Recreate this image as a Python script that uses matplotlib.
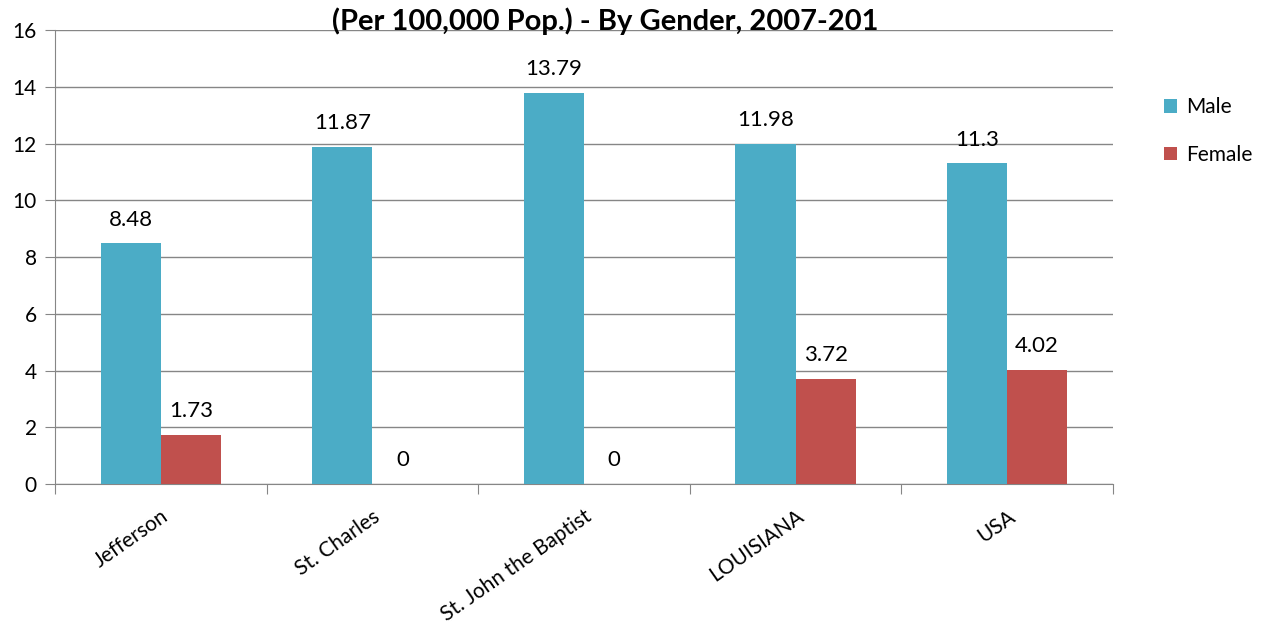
import numpy as np
import matplotlib.pyplot as plt

# data
places = ["Jefferson", "St. Charles", "St. John the Baptist", "LOUISIANA", "USA"]
male = [8.48, 11.87, 13.79, 11.98, 11.3]
female = [1.73, 0, 0, 3.72, 4.02]
male_lbl = ["8.48", "11.87", "13.79", "11.98", "11.3"]
female_lbl = ["1.73", "0", "0", "3.72", "4.02"]

plt.rcParams['font.family'] = ['Lato', 'DejaVu Sans']

fig = plt.figure(figsize=(12.66, 6.27), dpi=100)
ax = fig.add_axes([0.0434, 0.228, 0.8357, 0.724])

x = np.arange(len(places))
w = 0.284
b1 = ax.bar(x - w/2, male, w, color='#4BACC6', label='Male', zorder=3)
b2 = ax.bar(x + w/2, female, w, color='#C0504D', label='Female', zorder=3)

for rect, t in zip(b1, male_lbl):
    ax.annotate(t, (rect.get_x() + rect.get_width()/2, rect.get_height()),
                xytext=(0, 10), textcoords='offset points', ha='center', va='bottom', fontsize=16)
for rect, t in zip(b2, female_lbl):
    ax.annotate(t, (rect.get_x() + rect.get_width()/2, rect.get_height()),
                xytext=(0, 10), textcoords='offset points', ha='center', va='bottom', fontsize=16)

ax.set_xlim(-0.5, len(places) - 0.5)
ax.set_ylim(0, 16)
ax.set_yticks(range(0, 17, 2))
ax.yaxis.grid(True, color='#868686', linewidth=1, zorder=0)
ax.tick_params(axis='y', labelsize=15, length=7, color='#868686', pad=6)

# category ticks at boundaries, labels at centers
ax.set_xticks(np.arange(-0.5, len(places)), minor=False)
ax.set_xticklabels([])
ax.set_xticks(x, minor=True)
ax.set_xticklabels(places, minor=True, rotation=35, ha='right', rotation_mode='anchor', fontsize=15)
ax.tick_params(axis='x', which='major', length=7, color='#868686')
ax.tick_params(axis='x', which='minor', length=0, pad=16)

for s in ['top', 'right']:
    ax.spines[s].set_visible(False)
for s in ['left', 'bottom']:
    ax.spines[s].set_color('#868686')

fig.text(605/1266, 1 - 21/627, "(Per 100,000 Pop.) - By Gender, 2007-201",
         ha='center', va='center', fontsize=21, fontweight='bold')

fig.legend(handles=[b1, b2], loc='center left', bbox_to_anchor=(1164/1266, 1 - 131/627),
           frameon=False, fontsize=15, handlelength=0.6, handleheight=0.6,
           labelspacing=1.3, handletextpad=0.45, borderpad=0, borderaxespad=0)

fig.savefig('out.png', dpi=100)
